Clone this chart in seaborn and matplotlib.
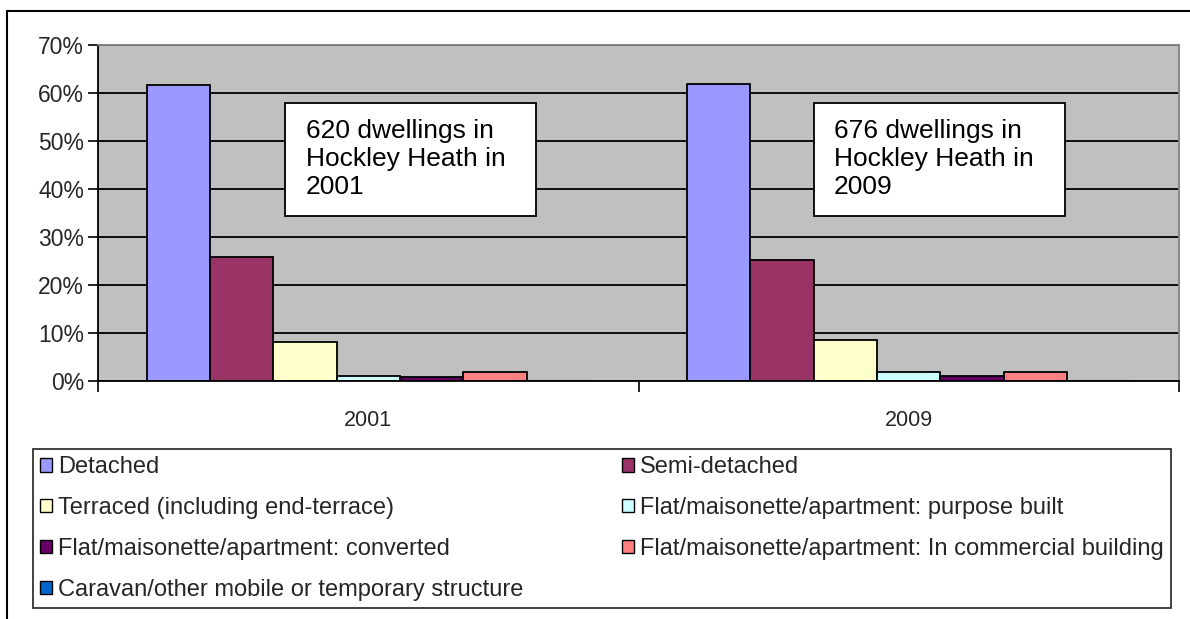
import matplotlib
matplotlib.use("Agg")
import matplotlib.pyplot as plt
from matplotlib.patches import Rectangle
from matplotlib.ticker import FuncFormatter, FixedLocator
import seaborn as sns
import pandas as pd

years = ["2001", "2009"]
types = [
    "Detached",
    "Semi-detached",
    "Terraced (including end-terrace)",
    "Flat/maisonette/apartment: purpose built",
    "Flat/maisonette/apartment: converted",
    "Flat/maisonette/apartment: In commercial building",
    "Caravan/other mobile or temporary structure",
]
values_2001 = [61.6, 25.9, 8.2, 1.0, 0.9, 1.9, 0.0]
values_2009 = [61.9, 25.2, 8.6, 1.9, 1.0, 1.9, 0.0]
colors = ["#9999FF", "#993366", "#FFFFCC", "#CCFFFF", "#660066", "#FF8080", "#0066CC"]
notes = ["620 dwellings in\nHockley Heath in\n2001", "676 dwellings in\nHockley Heath in\n2009"]

rows = []
for y, vals in zip(years, [values_2001, values_2009]):
    for t, v in zip(types, vals):
        rows.append({"year": y, "type": t, "value": v})
df = pd.DataFrame(rows)

sns.set_theme(style="white")
plt.rcParams["font.family"] = ["Liberation Sans", "DejaVu Sans"]

W, H = 1190, 619
fig = plt.figure(figsize=(W / 100, H / 100), dpi=100)
fig.patch.set_facecolor("white")

ax_l, ax_r, ax_t, ax_b = 98, 1179, 45, 381
ax = fig.add_axes([ax_l / W, 1 - ax_b / H, (ax_r - ax_l) / W, (ax_b - ax_t) / H])
ax.set_facecolor("#C0C0C0")

sns.barplot(data=df, x="year", y="value", hue="type", hue_order=types,
            order=years, palette=colors, width=0.82, saturation=1,
            edgecolor="black", linewidth=1.3, ax=ax)
handles, labels = ax.get_legend_handles_labels()
if ax.legend_ is not None:
    ax.legend_.remove()

ax.set_ylim(0, 70)
ax.set_xlim(-0.5, 1.5)
ax.yaxis.set_major_locator(FixedLocator(range(0, 71, 10)))
ax.yaxis.set_major_formatter(FuncFormatter(lambda v, p: f"{v:.0f}%"))
ax.yaxis.grid(True, color="black", linewidth=1.3)
ax.set_axisbelow(True)
ax.set_xlabel("")
ax.set_ylabel("")

ax.tick_params(axis="y", which="major", length=7, width=1.2, color="black",
               direction="out", labelsize=16.5, pad=3, left=True)
ax.tick_params(axis="x", which="major", length=0, labelsize=15.5, pad=21)
ax.set_xticks([-0.5, 0.5, 1.5], minor=True)
ax.tick_params(axis="x", which="minor", length=8, width=1.2, color="black",
               direction="out", bottom=True)

for s in ["left", "bottom"]:
    ax.spines[s].set_color("black")
    ax.spines[s].set_linewidth(1.3)
for s in ["top", "right"]:
    ax.spines[s].set_color("#808080")
    ax.spines[s].set_linewidth(1.3)

# annotation boxes
box_x = [285, 814]
text_x = [306, 834]
for bx, tx, note in zip(box_x, text_x, notes):
    ax.add_patch(Rectangle(((bx - ax_l) / (ax_r - ax_l), (ax_b - 216) / (ax_b - ax_t)),
                           251 / (ax_r - ax_l), 113 / (ax_b - ax_t),
                           transform=ax.transAxes, facecolor="white",
                           edgecolor="black", linewidth=1.3, zorder=5))
    ax.text((tx - ax_l) / (ax_r - ax_l), (ax_b - 119) / (ax_b - ax_t), note,
            transform=ax.transAxes, ha="left", va="top", fontsize=19,
            linespacing=1.2, color="black", zorder=6)

# outer frame
fig.patches.append(Rectangle((7 / W, -0.1), 1.2, 1.1 - 11 / H,
                             transform=fig.transFigure, fill=False,
                             edgecolor="black", linewidth=1.5))

# legend in row-major order
order = [0, 2, 4, 6, 1, 3, 5]
leg = fig.legend([handles[i] for i in order], [labels[i] for i in order],
                 ncol=2, loc="lower left",
                 bbox_to_anchor=(33 / W, 1 - 608 / H, (1171 - 33) / W, 163 / H),
                 mode="expand", fontsize=17, frameon=True, fancybox=False,
                 edgecolor="black", handlelength=0.5, handleheight=0.5,
                 handletextpad=0.25, labelspacing=0.8, borderpad=0.3,
                 borderaxespad=0, columnspacing=1.0)
leg.get_frame().set_linewidth(1.3)
for h in leg.legend_handles:
    h.set_edgecolor("black")
    h.set_linewidth(1.0)

fig.savefig("out.png", dpi=100, facecolor="white")
